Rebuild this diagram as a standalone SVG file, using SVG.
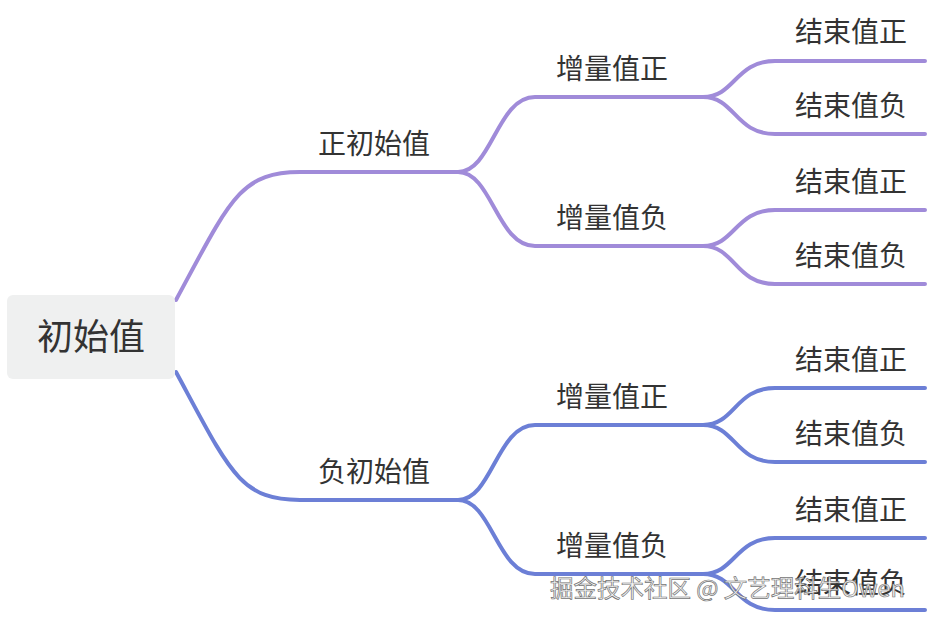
<svg xmlns="http://www.w3.org/2000/svg" width="930" height="619" viewBox="0 0 930 619">
<style>
.t{font-family:"Noto Sans CJK SC","Noto Sans",sans-serif;fill:#333;font-size:28px;text-anchor:middle}
.root{font-size:36px}
.p{fill:none;stroke:#a08bd9;stroke-width:4;stroke-linecap:round}
.b{fill:none;stroke:#6c7fd6;stroke-width:4;stroke-linecap:round}
.wm{font-family:"Noto Sans CJK SC",sans-serif;font-size:23.5px;fill:#f4f4f4;stroke:#666;stroke-width:0.7;opacity:0.9}
</style>
<rect width="930" height="619" fill="#fff"/>
<g id="connectors">
<path class="p" d="M176,300 C230,200 240,172 300,172 H458"/>
<path class="p" d="M458,172 C492,172 497,97 535,97 H703"/>
<path class="p" d="M458,172 C492,172 497,246 535,246 H703"/>
<path class="p" d="M703,97 C735,97 735,61 775,61 H925"/>
<path class="p" d="M703,97 C735,97 735,134 775,134 H925"/>
<path class="p" d="M703,246 C735,246 735,210 775,210 H925"/>
<path class="p" d="M703,246 C735,246 735,284 775,284 H925"/>
<path class="b" d="M176,372 C230,472 240,500 300,500 H458"/>
<path class="b" d="M458,500 C492,500 497,425 535,425 H703"/>
<path class="b" d="M458,500 C492,500 497,574 535,574 H703"/>
<path class="b" d="M703,425 C735,425 735,388 775,388 H925"/>
<path class="b" d="M703,425 C735,425 735,462 775,462 H925"/>
<path class="b" d="M703,574 C735,574 735,538 775,538 H925"/>
<path class="b" d="M703,574 C735,574 735,610 775,610 H925"/>
</g>
<g id="root"><rect x="7" y="295" width="168" height="84" rx="6" fill="#eff0f0"/><text class="t root" x="91" y="350">初始值</text></g>
<g id="n1"><text class="t" x="374" y="154">正初始值</text></g>
<g id="n2"><text class="t" x="374" y="482">负初始值</text></g>
<g id="n11"><text class="t" x="612" y="79">增量值正</text></g>
<g id="n12"><text class="t" x="612" y="228">增量值负</text></g>
<g id="n21"><text class="t" x="612" y="407">增量值正</text></g>
<g id="n22"><text class="t" x="612" y="556">增量值负</text></g>
<g id="l1"><text class="t" x="851" y="42">结束值正</text></g>
<g id="l2"><text class="t" x="851" y="116">结束值负</text></g>
<g id="l3"><text class="t" x="851" y="192">结束值正</text></g>
<g id="l4"><text class="t" x="851" y="266">结束值负</text></g>
<g id="l5"><text class="t" x="851" y="370">结束值正</text></g>
<g id="l6"><text class="t" x="851" y="444">结束值负</text></g>
<g id="l7"><text class="t" x="851" y="520">结束值正</text></g>
<g id="l8"><text class="t" x="851" y="593">结束值负</text></g>
<text class="wm" x="550" y="597">掘金技术社区 @ 文艺理科生Owen</text>
</svg>
